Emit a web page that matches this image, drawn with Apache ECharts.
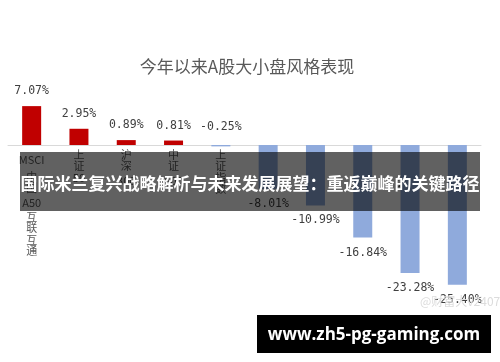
<!DOCTYPE html>
<html>
<head>
<meta charset="utf-8">
<script src="https://cdn.jsdelivr.net/npm/echarts@6/dist/echarts.min.js"></script>
<style>html,body{margin:0;padding:0;background:#fff}#c{width:500px;height:362px}</style>
</head>
<body>
<div id="c"></div>
<script>
const titleText = '今年以来A股大小盘风格表现';
const categories = ['MSCI中国A50互联互通', '上证50', '沪深300', '中证500', '上证指数', '万得全A', '创业板指', '中证1000', '中证2000', '万得微盘股指数'];
const values = [7.07, 2.95, 0.89, 0.81, -0.25, -8.01, -10.99, -16.84, -23.28, -25.40];
const bannerText = '国际米兰复兴战略解析与未来发展展望：重返巅峰的关键路径';
const footerText = 'www.zh5-pg-gaming.com';
const watermarkText = '@财富大v2407';

const catFont = {fontSize: 11, color: '#595959', fontFamily: 'Noto Sans CJK SC'};
const rich = {c: Object.assign({lineHeight: 11.5}, catFont)};
for (let n = 1; n <= 6; n++) rich['r' + n] = Object.assign({lineHeight: Math.round(n * 5.6)}, catFont);

function verticalLabel(name) {
  const parts = name.match(/[A-Za-z0-9]+|[^A-Za-z0-9]/g) || [];
  return parts.map(p => /[A-Za-z0-9]/.test(p) ? '{r' + Math.min(p.length, 6) + '|' + p + '}' : '{c|' + p + '}').join('\n');
}

const chart = echarts.init(document.getElementById('c'), null, {renderer: 'canvas'});
chart.setOption({
  animation: false,
  backgroundColor: '#ffffff',
  title: {
    text: titleText, left: 242, top: 51, textAlign: 'center',
    textStyle: {fontSize: 17, fontWeight: 'normal', color: '#595959', fontFamily: 'Noto Sans CJK SC', lineHeight: 22}
  },
  grid: {left: 8, right: 19, top: 90, bottom: 52, outerBoundsMode: 'none'},
  xAxis: {
    type: 'category', data: categories, offset: -165,
    axisLine: {onZero: false, lineStyle: {color: '#d9d9d9', width: 1}},
    axisTick: {show: false},
    axisLabel: {interval: 0, margin: 4, formatter: verticalLabel, rich: rich, verticalAlign: 'top'}
  },
  yAxis: {type: 'value', min: -30, max: 10, show: false, splitLine: {show: false}},
  series: [{
    type: 'bar', barWidth: 19,
    data: values.map(v => ({
      value: v,
      itemStyle: {color: v >= 0 ? '#c00000' : '#8faadc'},
      label: {position: v > -1 ? 'top' : 'bottom', distance: v < 0 && v > -1 ? 11 : 8}
    })),
    label: {
      show: true,
      formatter: p => p.value.toFixed(2) + '%',
      fontSize: 11.5, lineHeight: 14, color: '#404040', fontFamily: 'DejaVu Sans Mono'
    }
  }],
  graphic: [
    {type: 'text', left: 420, top: 295, z: 50, style: {text: watermarkText, fontSize: 12, fill: '#dcdcdc', fontFamily: 'Noto Sans CJK SC'}},
    {type: 'rect', z: 100, shape: {x: 20, y: 152, width: 460, height: 59}, style: {fill: 'rgba(0,0,0,0.62)'}},
    {type: 'text', z: 101, x: 250, y: 184, style: {text: bannerText, fill: '#ffffff', fontSize: 17, fontWeight: 'bold', fontFamily: 'Noto Sans CJK SC', align: 'center', verticalAlign: 'middle'}},
    {type: 'rect', z: 100, shape: {x: 257, y: 315, width: 234, height: 38}, style: {fill: '#000000'}},
    {type: 'text', z: 101, x: 374, y: 335, style: {text: footerText, fill: '#ffffff', fontSize: 17, fontWeight: 'bold', fontFamily: 'Open Sans', align: 'center', verticalAlign: 'middle'}}
  ]
});
</script>
</body>
</html>
